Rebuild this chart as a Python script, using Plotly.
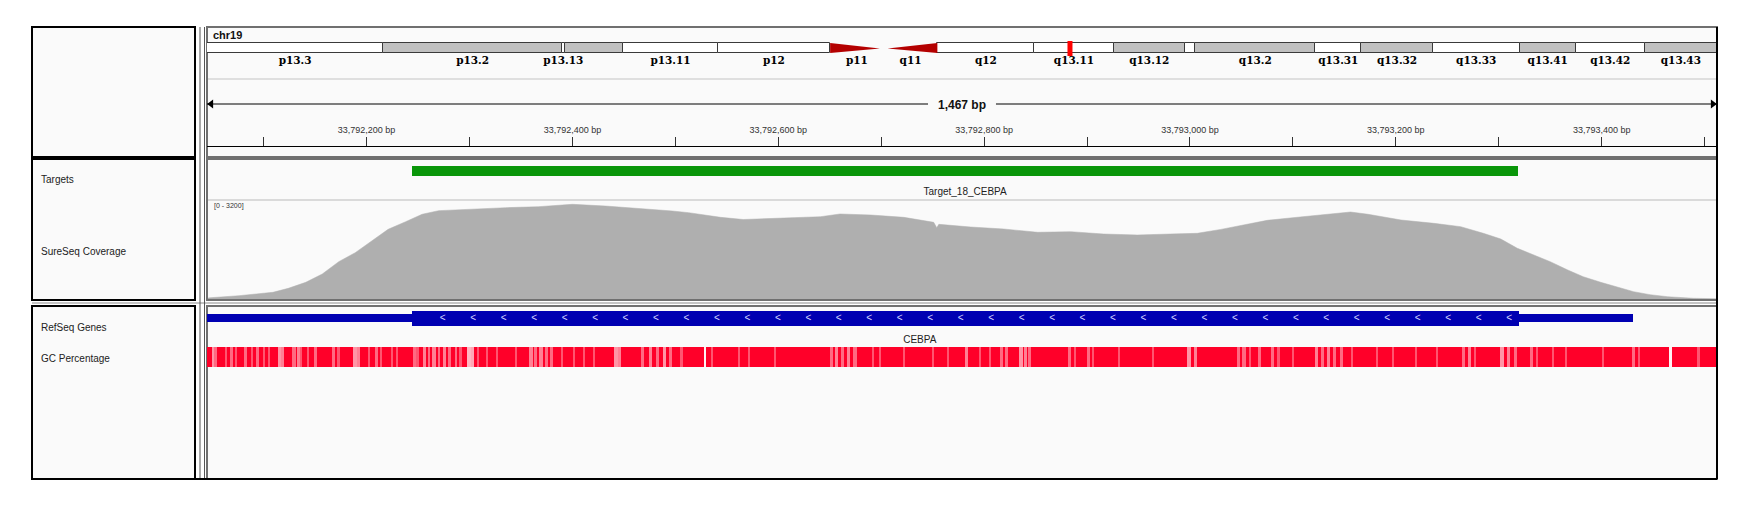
import plotly.graph_objects as go

# the page body has an 8px margin, so the figure is 8px smaller and all
# positions below are given in screenshot pixels, shifted by OFF
OFF = 8
FW, FH = 1754 - OFF, 510 - OFF

# ---- data ----
chrom = "chr19"
chrom_len_mb = 59.128983
band_names = ["p13.3", "p13.2", "p13.13", "p13.12", "p13.11", "p12", "p11", "q11", "q12",
              "q13.11", "q13.12", "q13.13", "q13.2", "q13.31", "q13.32", "q13.33", "q13.41",
              "q13.42", "q13.43"]
band_start_mb = [0.0, 6.9, 13.9, 14.0, 16.3, 20.0, 24.4, 26.5, 28.6, 32.4, 35.5, 38.3, 38.7,
                 43.4, 45.2, 48.0, 51.4, 53.6, 56.3]
band_end_mb = [6.9, 13.9, 14.0, 16.3, 20.0, 24.4, 26.5, 28.6, 32.4, 35.5, 38.3, 38.7, 43.4,
               45.2, 48.0, 51.4, 53.6, 56.3, 59.128983]
band_stain = ["gneg", "gpos25", "gneg", "gpos25", "gneg", "gvar", "acen", "acen", "gvar",
              "gneg", "gpos25", "gneg", "gpos25", "gneg", "gpos25", "gneg", "gpos25", "gneg",
              "gpos25"]
hidden_labels = ["p13.12", "q13.13"]

view_start = 33792045
view_end = 33793512

target_name = "Target_18_CEBPA"
target_start = 33792244
target_end = 33793319

cov_max = 3200
cov_pos = [33792046, 33792048, 33792076, 33792109, 33792124, 33792141, 33792157, 33792173,
           33792189, 33792206, 33792221, 33792238, 33792254, 33792270, 33792303, 33792335,
           33792367, 33792400, 33792432, 33792464, 33792497, 33792513, 33792529, 33792544,
           33792566, 33792609, 33792641, 33792660, 33792690, 33792722, 33792751, 33792754,
           33792756, 33792787, 33792819, 33792852, 33792884, 33792916, 33792949, 33792981,
           33793007, 33793030, 33793047, 33793075, 33793107, 33793140, 33793156, 33793173,
           33793205, 33793237, 33793263, 33793285, 33793302, 33793318, 33793334, 33793350,
           33793367, 33793382, 33793399, 33793415, 33793431, 33793447, 33793464, 33793489,
           33793511]
cov_depth = [30, 40, 107, 216, 345, 540, 808, 1206, 1497, 1907, 2253, 2499, 2738, 2855, 2909,
             2951, 2984, 3061, 3006, 2932, 2845, 2790, 2720, 2640, 2570, 2608, 2660, 2748,
             2715, 2640, 2479, 2305, 2414, 2327, 2263, 2156, 2176, 2101, 2069, 2101, 2123,
             2250, 2360, 2543, 2651, 2758, 2812, 2738, 2554, 2446, 2338, 2123, 1939, 1639,
             1422, 1206, 937, 721, 540, 378, 236, 140, 74, 23, 10]

gene_name = "CEBPA"
gene_start = 33790840
gene_end = 33793430
cds_start = 33792244
cds_end = 33793320

gc_base_pct = 70
gc_start = [33792050, 33792052, 33792062, 33792067, 33792072, 33792081, 33792088, 33792093,
            33792099, 33792104, 33792114, 33792117, 33792128, 33792132, 33792135, 33792142,
            33792149, 33792166, 33792171, 33792187, 33792191, 33792201, 33792208, 33792213,
            33792224, 33792229, 33792245, 33792248, 33792255, 33792260, 33792264, 33792269,
            33792274, 33792279, 33792286, 33792290, 33792298, 33792301, 33792307, 33792316,
            33792326, 33792344, 33792358, 33792363, 33792368, 33792373, 33792378, 33792389,
            33792401, 33792410, 33792420, 33792440, 33792444, 33792467, 33792474, 33792481,
            33792488, 33792494, 33792505, 33792528, 33792535, 33792561, 33792571, 33792596,
            33792650, 33792655, 33792661, 33792667, 33792673, 33792691, 33792698, 33792721,
            33792749, 33792764, 33792781, 33792795, 33792805, 33792815, 33792820, 33792834,
            33792839, 33792843, 33792881, 33792887, 33792900, 33792905, 33792930, 33792963,
            33792997, 33793004, 33793046, 33793051, 33793057, 33793066, 33793079, 33793085,
            33793099, 33793121, 33793127, 33793133, 33793139, 33793146, 33793156, 33793181,
            33793196, 33793219, 33793239, 33793264, 33793270, 33793276, 33793301, 33793308,
            33793315, 33793330, 33793336, 33793352, 33793364, 33793400, 33793429, 33793435,
            33793465, 33793493]
gc_len = [2, 3, 2, 3, 2, 3, 2, 3, 2, 2, 4, 3, 3, 3, 2, 2, 3, 3, 3, 4, 3, 2, 3, 2, 2, 2, 3, 3,
          3, 2, 3, 2, 3, 3, 2, 3, 3, 3, 2, 2, 2, 2, 4, 3, 3, 3, 3, 2, 2, 2, 2, 4, 3, 3, 3, 3,
          3, 3, 2, 1, 2, 2, 2, 2, 3, 3, 3, 3, 3, 2, 2, 2, 2, 2, 3, 2, 2, 3, 3, 4, 3, 3, 3, 2,
          3, 2, 2, 2, 4, 3, 3, 3, 2, 3, 3, 2, 2, 3, 3, 3, 3, 3, 2, 2, 2, 2, 2, 3, 3, 2, 4, 3,
          3, 3, 2, 2, 2, 2, 3, 2, 3, 2]
gc_pct = [35, 45, 50, 45, 50, 45, 50, 45, 50, 50, 35, 40, 45, 40, 50, 50, 45, 45, 50, 35, 40,
          50, 45, 50, 50, 50, 45, 50, 40, 45, 40, 45, 40, 45, 45, 50, 25, 30, 50, 50, 50, 50,
          40, 45, 40, 45, 45, 50, 50, 50, 50, 35, 40, 45, 40, 45, 35, 45, 50, 5, 50, 50, 50,
          50, 45, 40, 45, 40, 45, 50, 50, 50, 50, 50, 40, 50, 50, 45, 45, 35, 40, 45, 45, 50,
          45, 50, 50, 50, 35, 40, 45, 45, 50, 45, 45, 50, 50, 40, 45, 40, 45, 45, 50, 50, 50,
          50, 50, 45, 40, 50, 35, 40, 45, 45, 50, 50, 50, 50, 45, 50, 5, 50]

track_names = ["Targets", "SureSeq Coverage", "RefSeq Genes", "GC Percentage"]
track_name_y = [180, 251, 327, 358]


def fx(x):
    return (x - OFF) / FW


def fy(y):
    return 1 - (y - OFF) / FH


def ydom(top, bottom):
    return [fy(bottom), fy(top)]


XD = [fx(207), fx(1717)]
SANS = "Liberation Sans, Arial, sans-serif"
stain_color = {"gneg": "#ffffff", "gvar": "#ffffff", "gpos25": "#c0c0c0"}

fig = go.Figure()

# ---- ideogram ----
ib = [i for i, s in enumerate(band_stain) if s != "acen"]
fig.add_trace(go.Bar(
    orientation="h", xaxis="x2", yaxis="y6",
    base=[band_start_mb[i] for i in ib],
    x=[band_end_mb[i] - band_start_mb[i] for i in ib],
    y=[0.5] * len(ib), width=1,
    marker=dict(color=[stain_color[band_stain[i]] for i in ib], line=dict(color="#3a3a3a", width=1)),
    hoverinfo="skip"))
for i, s in enumerate(band_stain):
    if s != "acen":
        continue
    if band_names[i].startswith("p"):
        xs = [band_start_mb[i], band_start_mb[i], band_end_mb[i] - 0.15]
    else:
        xs = [band_end_mb[i], band_end_mb[i], band_start_mb[i] + 0.15]
    fig.add_trace(go.Scatter(x=xs, y=[0, 1, 0.45], xaxis="x2", yaxis="y6", fill="toself",
                             mode="lines", line=dict(width=0, color="#b40000"),
                             fillcolor="#b40000", hoverinfo="skip"))
center_mb = (view_start + view_end) / 2 / 1e6
fig.add_trace(go.Scatter(x=[center_mb, center_mb], y=[-0.3, 1.2], xaxis="x2", yaxis="y6",
                         mode="lines", line=dict(color="#ff0000", width=5), hoverinfo="skip"))
lab = [i for i in range(len(band_names)) if band_names[i] not in hidden_labels]
fig.add_trace(go.Scatter(
    x=[(band_start_mb[i] + band_end_mb[i]) / 2 for i in lab], y=[-0.8] * len(lab),
    text=[band_names[i] for i in lab], mode="text", xaxis="x2", yaxis="y6",
    textfont=dict(family="DejaVu Serif, serif", size=10.5, color="#000", weight="bold"),
    cliponaxis=False, hoverinfo="skip"))

# ---- ruler ----
mid = (view_start + view_end) / 2
gap = 33
fig.add_trace(go.Scatter(x=[view_start, mid - gap, None, mid + gap, view_end], y=[24] * 5,
                         xaxis="x3", yaxis="y5", mode="lines",
                         line=dict(color="black", width=1), hoverinfo="skip"))
fig.add_trace(go.Scatter(x=[view_start + 4, view_end - 4], y=[24, 24], xaxis="x3", yaxis="y5",
                         mode="markers", marker=dict(symbol=["triangle-left", "triangle-right"],
                                                     size=8, color="black"),
                         cliponaxis=False, hoverinfo="skip"))
fig.add_trace(go.Scatter(x=[mid], y=[25.5], text=[f"{view_end - view_start:,} bp"], mode="text",
                         xaxis="x3", yaxis="y5", cliponaxis=False, hoverinfo="skip",
                         textfont=dict(family=SANS, size=12, color="#111", weight="bold")))

# ---- targets ----
fig.add_trace(go.Bar(orientation="h", base=[target_start], x=[target_end - target_start], y=[11],
                     width=10, xaxis="x", yaxis="y2", marker=dict(color="#0a960a", line=dict(width=0)),
                     hoverinfo="skip"))
fig.add_trace(go.Scatter(x=[(target_start + target_end) / 2], y=[32], text=[target_name],
                         mode="text", xaxis="x", yaxis="y2", cliponaxis=False, hoverinfo="skip",
                         textfont=dict(family=SANS, size=10, color="#222")))

# ---- coverage ----
fig.add_trace(go.Scatter(x=cov_pos, y=cov_depth, xaxis="x", yaxis="y", mode="lines",
                         fill="tozeroy", fillcolor="#afafaf", line=dict(color="#afafaf", width=0.5),
                         hoverinfo="skip"))

# ---- gene ----
fig.add_trace(go.Bar(orientation="h", base=[gene_start], x=[gene_end - gene_start], y=[12], width=8,
                     xaxis="x", yaxis="y3", marker=dict(color="#0000b2", line=dict(width=0)),
                     hoverinfo="skip"))
fig.add_trace(go.Bar(orientation="h", base=[cds_start], x=[cds_end - cds_start], y=[12.5], width=15,
                     xaxis="x", yaxis="y3", marker=dict(color="#0000b2", line=dict(width=0)),
                     hoverinfo="skip"))
chev_step = 29.6
chev_x = []
c = cds_start + 30
while c < cds_end - 5:
    chev_x.append(c)
    c += chev_step
fig.add_trace(go.Scatter(x=chev_x, y=[12.5] * len(chev_x), text=["<"] * len(chev_x), mode="text",
                         xaxis="x", yaxis="y3", hoverinfo="skip",
                         textfont=dict(family=SANS, size=10, color="#d4d4ff")))
fig.add_trace(go.Scatter(x=[(max(gene_start, view_start) + gene_end) / 2], y=[34], text=[gene_name],
                         mode="text", xaxis="x", yaxis="y3", cliponaxis=False, hoverinfo="skip",
                         textfont=dict(family=SANS, size=10, color="#222")))

# ---- GC percentage ----
gc_scale = [[0, "#ffffff"], [0.45, "#ffa4b2"], [1, "#ff0029"]]
fig.add_trace(go.Bar(orientation="h", base=[view_start], x=[view_end - view_start], y=[12], width=20,
                     xaxis="x", yaxis="y4", marker=dict(color=[gc_base_pct], colorscale=gc_scale,
                                                        cmin=0, cmax=gc_base_pct, line=dict(width=0)),
                     hoverinfo="skip"))
fig.add_trace(go.Bar(orientation="h", base=gc_start, x=gc_len, y=[12] * len(gc_start), width=20,
                     xaxis="x", yaxis="y4", marker=dict(color=gc_pct, colorscale=gc_scale,
                                                        cmin=0, cmax=gc_base_pct, line=dict(width=0)),
                     hoverinfo="skip"))

# ---- frames ----
shapes = []


def rect(x0, y0, x1, y1, color, width, fill, layer="below"):
    shapes.append(dict(type="rect", xref="paper", yref="paper", x0=fx(x0), x1=fx(x1),
                       y0=fy(y1), y1=fy(y0), line=dict(color=color, width=width),
                       fillcolor=fill, layer=layer))


def line(x0, y0, x1, y1, color, width):
    shapes.append(dict(type="line", xref="paper", yref="paper", x0=fx(x0), x1=fx(x1),
                       y0=fy(y0), y1=fy(y1), line=dict(color=color, width=width),
                       layer="above"))


for top, bottom in [(27, 157), (159, 300), (306, 479)]:
    rect(32, top, 195, bottom, "black", 2, "#fafafa")
    rect(207, top, 1717, bottom, "#707070", 2, "#fafafa")
line(32, 303, 1717, 303, "#8a8a8a", 1)
line(200, 27, 200, 479, "#555555", 1)
line(204.5, 27, 204.5, 479, "#555555", 1)
line(1717, 27, 1717, 479, "black", 2)
line(32, 479, 1717, 479, "black", 2)
line(208, 79, 1716, 79, "#d6d6d6", 1.5)
line(208, 200, 1716, 200, "#dadada", 2)

annotations = [dict(text="chr19", x=fx(211), y=fy(35), xref="paper", yref="paper",
                    xanchor="left", yanchor="middle", showarrow=False,
                    font=dict(family=SANS, size=11, color="#111", weight="bold")),
               dict(text=f"[0 - {cov_max}]", x=fx(212), y=fy(206), xref="paper",
                    yref="paper", xanchor="left", yanchor="middle", showarrow=False,
                    font=dict(family=SANS, size=7, color="#333"))]
for name, yy in zip(track_names, track_name_y):
    annotations.append(dict(text=name, x=fx(39), y=fy(yy), xref="paper", yref="paper",
                            xanchor="left", yanchor="middle", showarrow=False,
                            font=dict(family=SANS, size=10, color="#222")))

hidden = dict(visible=False, fixedrange=True)
fig.update_layout(
    width=FW, height=FH, margin=dict(l=0, r=0, t=0, b=0),
    paper_bgcolor="white", plot_bgcolor="rgba(0,0,0,0)",
    showlegend=False, barmode="overlay", bargap=0,
    shapes=shapes, annotations=annotations,
    xaxis=dict(domain=XD, range=[view_start, view_end], anchor="y", **hidden),
    xaxis2=dict(domain=XD, range=[0, chrom_len_mb], anchor="y6", **hidden),
    xaxis3=dict(domain=XD, range=[view_start, view_end], anchor="free", position=fy(146),
                side="top", showgrid=False, zeroline=False, showline=True, linecolor="black",
                linewidth=1, ticks="outside", ticklen=9, tickwidth=1, tickcolor="#333",
                tick0=0, dtick=200, tickformat=",d", ticksuffix=" bp",
                tickfont=dict(family=SANS, size=9, color="#333"),
                minor=dict(ticks="outside", tick0=0, dtick=100, ticklen=9, tickcolor="#333"),
                fixedrange=True),
    yaxis=dict(domain=ydom(200, 299), range=[0, cov_max], anchor="x", **hidden),
    yaxis2=dict(domain=ydom(160, 199), range=[39, 0], anchor="x", **hidden),
    yaxis3=dict(domain=ydom(306, 345), range=[39, 0], anchor="x", **hidden),
    yaxis4=dict(domain=ydom(345, 369), range=[24, 0], anchor="x", **hidden),
    yaxis5=dict(domain=ydom(80, 145), range=[65, 0], anchor="x3", **hidden),
    yaxis6=dict(domain=ydom(30, 76), range=[-2.3, 2.3], anchor="x2", **hidden),
)

fig.write_html("out.html")
